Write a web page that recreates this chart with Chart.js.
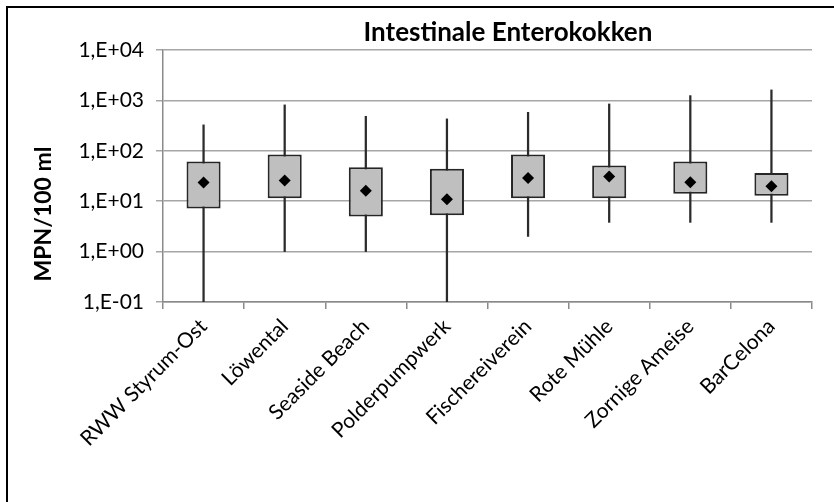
<!DOCTYPE html>
<html>
<head>
<meta charset="utf-8">
<script src="https://cdn.jsdelivr.net/npm/chart.js@4.4.1/dist/chart.umd.min.js"></script>
<style>
  html, body { margin: 0; padding: 0; background: #fff; overflow: hidden; }
  #c { display: block; }
</style>
</head>
<body>
<canvas id="c" width="834" height="502"></canvas>
<script>
// Sampling sites
const sites = ['RWW Styrum-Ost', 'Löwental', 'Seaside Beach', 'Polderpumpwerk',
               'Fischereiverein', 'Rote Mühle', 'Zornige Ameise', 'BarCelona'];

// Box plot statistics per site (MPN/100 ml)
const whiskerMin = [0.1, 1.0, 1.0, 0.1, 2.0, 3.8, 3.8, 3.8];
const boxLow     = [7.2, 11.4, 4.95, 5.25, 11.4, 11.4, 14, 12.9];
const boxHigh    = [61, 84, 47, 44, 84, 51, 61, 36.4];
const whiskerMax = [327, 814, 484, 430, 580, 850, 1245, 1615];
const centre     = [23.4, 25.6, 16.2, 10.9, 29, 30.8, 23.7, 19.8];

// Logarithmic axis ticks
const yTickValues = [0.1, 1, 10, 100, 1000, 10000];
const yTickLabels = ['1,E-01', '1,E+00', '1,E+01', '1,E+02', '1,E+03', '1,E+04'];

const chartTitle = 'Intestinale Enterokokken';
const yAxisTitle = 'MPN/100 ml';

const FONT = 'Lato, "Open Sans", sans-serif';

// Frame, chart title and rotated axis title
const textPlugin = {
  id: 'texts',
  beforeDraw(chart) {
    const ctx = chart.ctx;
    ctx.save();
    ctx.fillStyle = '#fff';
    ctx.fillRect(0, 0, chart.width, chart.height);
    ctx.strokeStyle = '#000';
    ctx.lineWidth = 2;
    ctx.beginPath();
    ctx.moveTo(7, chart.height);
    ctx.lineTo(7, 7);
    ctx.lineTo(chart.width, 7);
    ctx.stroke();
    ctx.restore();
  },
  afterDraw(chart) {
    const ctx = chart.ctx;
    ctx.save();
    ctx.fillStyle = '#000';
    ctx.font = 'bold 26px ' + FONT;
    ctx.textAlign = 'center';
    ctx.textBaseline = 'middle';
    ctx.fillText(chartTitle, 508, 33);
    ctx.translate(44, 214);
    ctx.rotate(-Math.PI / 2);
    ctx.font = 'bold 23px ' + FONT;
    ctx.fillText(yAxisTitle, 0, 0);
    ctx.restore();
  }
};

new Chart(document.getElementById('c'), {
  type: 'bar',
  data: {
    labels: sites,
    datasets: [
      {
        label: 'Whisker',
        data: sites.map((s, i) => [whiskerMin[i], whiskerMax[i]]),
        backgroundColor: '#2b2b2b',
        barThickness: 1.6,
        grouped: false,
        order: 3
      },
      {
        label: 'Box',
        data: sites.map((s, i) => [boxLow[i], boxHigh[i]]),
        backgroundColor: '#bfbfbf',
        borderColor: '#262626',
        borderWidth: 2,
        borderSkipped: false,
        barPercentage: 0.42,
        categoryPercentage: 1,
        grouped: false,
        order: 2
      },
      {
        type: 'line',
        label: 'Centre',
        data: centre,
        showLine: false,
        pointStyle: 'rectRot',
        pointRadius: 6,
        pointBackgroundColor: '#000',
        pointBorderColor: '#000',
        pointBorderWidth: 0,
        order: 1
      }
    ]
  },
  options: {
    responsive: false,
    animation: false,
    layout: { padding: { top: 50, right: 22, left: 0, bottom: 0 } },
    plugins: {
      legend: { display: false },
      tooltip: { enabled: false },
      title: { display: false }
    },
    scales: {
      x: {
        offset: true,
        grid: { offset: true, drawOnChartArea: false, drawTicks: true, tickLength: 7, color: '#8a8a8a', lineWidth: 1.5 },
        border: { display: true, color: '#8a8a8a', width: 1.5 },
        ticks: {
          autoSkip: false, minRotation: 45, maxRotation: 45, padding: 5,
          color: '#000', font: { family: FONT, size: 21 }
        },
        afterFit(scale) { scale.height = 200; }
      },
      y: {
        type: 'logarithmic',
        min: 0.1,
        max: 10000,
        afterBuildTicks(scale) { scale.ticks = yTickValues.map(v => ({ value: v })); },
        grid: { color: '#a6a6a6', lineWidth: 1.5, tickLength: 7, drawTicks: true },
        border: { display: true, color: '#8a8a8a', width: 1.5 },
        ticks: {
          padding: 12,
          color: '#000',
          font: { family: FONT, size: 21 },
          callback: (v, i) => yTickLabels[i]
        },
        afterFit(scale) { scale.width = 163; }
      }
    }
  },
  plugins: [textPlugin]
});
</script>
</body>
</html>
